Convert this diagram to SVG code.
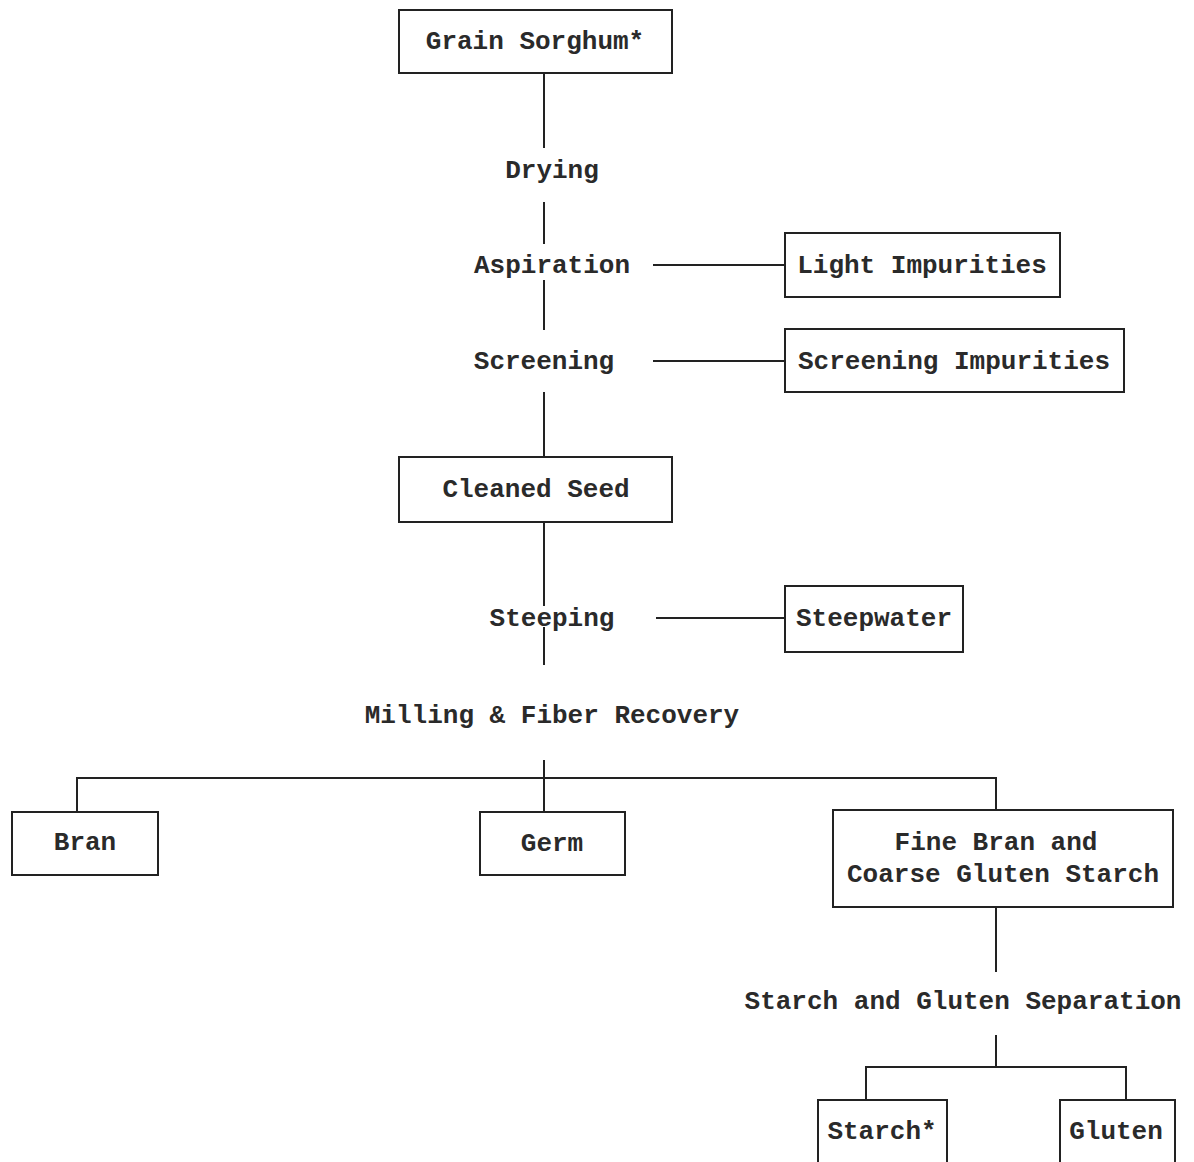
<svg xmlns="http://www.w3.org/2000/svg" width="1194" height="1162" viewBox="0 0 1194 1162">
<style>
  .box { fill: #fff; stroke: #222; stroke-width: 2; }
  .lbl { font-family: "Liberation Mono", "Courier New", monospace; font-size: 26px; font-weight: bold; fill: #2a2a2a; text-anchor: middle; }
  .ln { stroke: #222; stroke-width: 2; fill: none; }
</style>
<rect width="1194" height="1162" fill="#fff"/>
<g id="connectors">
  <line class="ln" x1="544" y1="73" x2="544" y2="148"/>
  <line class="ln" x1="544" y1="202" x2="544" y2="244"/>
  <line class="ln" x1="544" y1="280" x2="544" y2="330"/>
  <line class="ln" x1="544" y1="392" x2="544" y2="457"/>
  <line class="ln" x1="653" y1="265" x2="785" y2="265"/>
  <line class="ln" x1="653" y1="361" x2="785" y2="361"/>
  <line class="ln" x1="544" y1="522" x2="544" y2="606"/>
  <line class="ln" x1="544" y1="627" x2="544" y2="665"/>
  <line class="ln" x1="656" y1="618" x2="785" y2="618"/>
  <line class="ln" x1="544" y1="760" x2="544" y2="812"/>
  <polyline class="ln" points="77,812 77,778 996,778 996,810"/>
  <line class="ln" x1="996" y1="907" x2="996" y2="972"/>
  <line class="ln" x1="996" y1="1035" x2="996" y2="1067"/>
  <polyline class="ln" points="866,1100 866,1067 1126,1067 1126,1100"/>
</g>
<g id="grain-sorghum">
  <rect class="box" x="399" y="10" width="273" height="63"/>
  <text class="lbl" x="535" y="49">Grain Sorghum*</text>
</g>
<g id="drying">
  <text class="lbl" x="552" y="178">Drying</text>
</g>
<g id="aspiration">
  <text class="lbl" x="552" y="273">Aspiration</text>
</g>
<g id="light-impurities">
  <rect class="box" x="785" y="233" width="275" height="64"/>
  <text class="lbl" x="922" y="273">Light Impurities</text>
</g>
<g id="screening">
  <text class="lbl" x="544" y="369">Screening</text>
</g>
<g id="screening-impurities">
  <rect class="box" x="785" y="329" width="339" height="63"/>
  <text class="lbl" x="954" y="369">Screening Impurities</text>
</g>
<g id="cleaned-seed">
  <rect class="box" x="399" y="457" width="273" height="65"/>
  <text class="lbl" x="536" y="497">Cleaned Seed</text>
</g>
<g id="steeping">
  <text class="lbl" x="552" y="626">Steeping</text>
</g>
<g id="steepwater">
  <rect class="box" x="785" y="586" width="178" height="66"/>
  <text class="lbl" x="874" y="626">Steepwater</text>
</g>
<g id="milling">
  <text class="lbl" x="552" y="723">Milling &amp; Fiber Recovery</text>
</g>
<g id="bran">
  <rect class="box" x="12" y="812" width="146" height="63"/>
  <text class="lbl" x="85" y="850">Bran</text>
</g>
<g id="germ">
  <rect class="box" x="480" y="812" width="145" height="63"/>
  <text class="lbl" x="552" y="851">Germ</text>
</g>
<g id="fine-bran">
  <rect class="box" x="833" y="810" width="340" height="97"/>
  <text class="lbl" x="996" y="850">Fine Bran and</text>
  <text class="lbl" x="1003" y="882">Coarse Gluten Starch</text>
</g>
<g id="separation">
  <text class="lbl" x="963" y="1009">Starch and Gluten Separation</text>
</g>
<g id="starch">
  <rect class="box" x="818" y="1100" width="129" height="80"/>
  <text class="lbl" x="882" y="1139">Starch*</text>
</g>
<g id="gluten">
  <rect class="box" x="1060" y="1100" width="115" height="80"/>
  <text class="lbl" x="1116" y="1139">Gluten</text>
</g>
</svg>
